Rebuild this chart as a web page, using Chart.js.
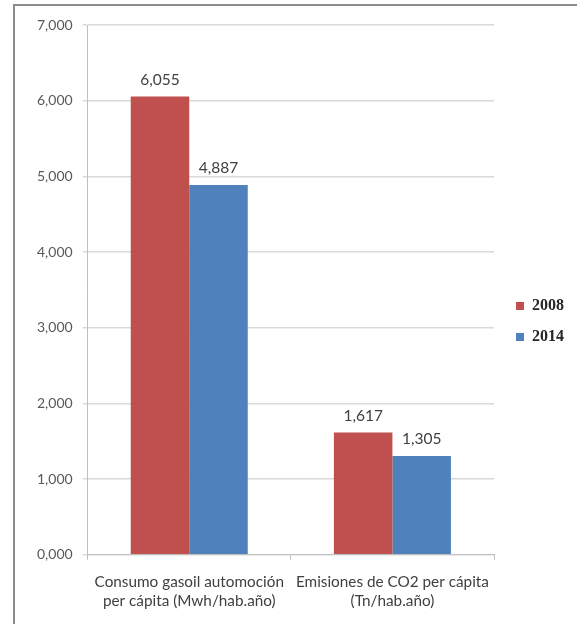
<!DOCTYPE html>
<html>
<head>
<meta charset="utf-8">
<script src="https://cdn.jsdelivr.net/npm/chart.js@4.4.1/dist/chart.umd.min.js"></script>
<style>
  html, body { margin: 0; padding: 0; background: #fff; }
  #frame { position: absolute; left: 13px; top: 4px; width: 570px; height: 630px;
           border-left: 2px solid #8c8c8c; border-top: 2px solid #8c8c8c; box-sizing: border-box; }
  #wrap { position: absolute; left: 0; top: 0; width: 577px; height: 624px; }
</style>
</head>
<body>
<div id="frame"></div>
<div id="wrap"><canvas id="c" width="577" height="624"></canvas></div>
<script>
const categories = [
  ["Consumo gasoil automoción", "per cápita (Mwh/hab.año)"],
  ["Emisiones de CO2 per cápita", "(Tn/hab.año)"]
];
const seriesNames = ["2008", "2014"];
const values2008 = [6.055, 1.617];
const values2014 = [4.887, 1.305];
const yMin = 0, yMax = 7, yStep = 1;

const fmt = v => Number(v).toFixed(3).replace('.', ',');
const FONT = "Lato, 'Liberation Sans', sans-serif";

const valueLabels = {
  id: 'valueLabels',
  afterDatasetsDraw(chart) {
    const ctx = chart.ctx;
    ctx.save();
    ctx.font = "15.5px " + FONT;
    ctx.fillStyle = '#404040';
    ctx.textAlign = 'center';
    ctx.textBaseline = 'bottom';
    chart.data.datasets.forEach((ds, i) => {
      chart.getDatasetMeta(i).data.forEach((el, j) => {
        ctx.fillText(fmt(ds.data[j]), el.x, el.y - 9);
      });
    });
    ctx.restore();
  }
};

// nudge the legend a little away from the plot area
const legendShift = {
  id: 'legendShift',
  afterLayout(chart) {
    const lg = chart.legend;
    if (lg) { lg.left += 7; lg.right += 7; lg.top -= 3; lg.bottom -= 3; }
  }
};

new Chart(document.getElementById('c'), {
  type: 'bar',
  data: {
    labels: categories,
    datasets: [
      { label: seriesNames[0], data: values2008, backgroundColor: '#C0504D', borderWidth: 0, categoryPercentage: 0.576, barPercentage: 1.0 },
      { label: seriesNames[1], data: values2014, backgroundColor: '#4F81BD', borderWidth: 0, categoryPercentage: 0.576, barPercentage: 1.0 }
    ]
  },
  options: {
    responsive: false,
    animation: false,
    devicePixelRatio: 1,
    layout: { padding: { left: 27, right: 10, top: 25, bottom: 0 } },
    plugins: {
      tooltip: { enabled: false },
      legend: {
        position: 'right',
        align: 'center',
        labels: {
          boxWidth: 8, boxHeight: 8, padding: 15,
          color: '#262626',
          font: { family: "'Liberation Serif', 'DejaVu Serif', serif", size: 16, weight: 'bold' }
        }
      }
    },
    scales: {
      x: {
        offset: true,
        grid: { offset: true, drawOnChartArea: false, drawTicks: true, tickLength: 5, color: '#bfbfbf' },
        border: { color: '#bfbfbf', width: 1 },
        ticks: { color: '#404040', font: { family: FONT, size: 15.3, lineHeight: 1.25 }, padding: 13, maxRotation: 0, autoSkip: false }
      },
      y: {
        min: yMin, max: yMax,
        ticks: { stepSize: yStep, color: '#595959', font: { family: FONT, size: 14 }, padding: 10, callback: v => fmt(v) },
        grid: { color: '#d9d9d9', lineWidth: 1.5, tickLength: 5, drawTicks: true },
        border: { color: '#bfbfbf', width: 1 }
      }
    }
  },
  plugins: [valueLabels, legendShift]
});
</script>
</body>
</html>
